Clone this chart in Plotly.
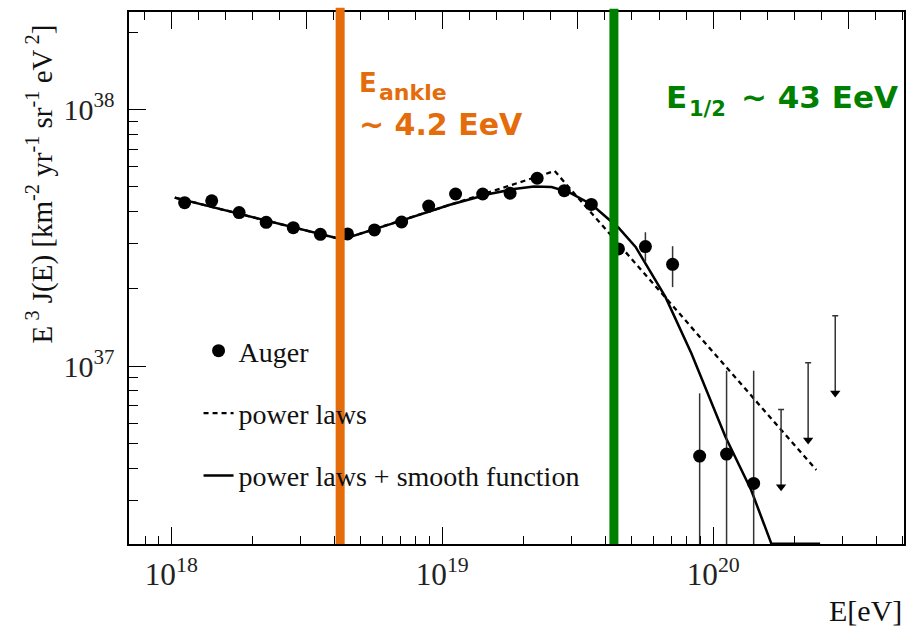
import math
import plotly.graph_objects as go

# Auger spectrum: bin energies [eV] and E^3 J(E) [km^-2 yr^-1 sr^-1 eV^2]
energy = [1.12e18, 1.41e18, 1.78e18, 2.24e18, 2.82e18, 3.55e18, 4.47e18, 5.62e18,
          7.08e18, 8.91e18, 1.12e19, 1.41e19, 1.78e19, 2.24e19, 2.82e19, 3.55e19,
          4.47e19, 5.62e19, 7.08e19, 8.91e19, 1.12e20, 1.41e20]
flux = [4.33e37, 4.40e37, 3.96e37, 3.63e37, 3.46e37, 3.26e37, 3.27e37, 3.39e37,
        3.64e37, 4.20e37, 4.68e37, 4.68e37, 4.71e37, 5.39e37, 4.82e37, 4.26e37,
        2.86e37, 2.92e37, 2.49e37, 4.46e36, 4.54e36, 3.49e36]
flux_hi = [4.33e37, 4.40e37, 3.96e37, 3.63e37, 3.46e37, 3.26e37, 3.27e37, 3.39e37,
           3.64e37, 4.20e37, 4.68e37, 4.68e37, 4.71e37, 5.39e37, 4.82e37, 4.26e37,
           2.86e37, 3.32e37, 2.93e37, 7.83e36, 9.59e36, 9.59e36]
flux_lo = [4.33e37, 4.40e37, 3.96e37, 3.63e37, 3.46e37, 3.26e37, 3.27e37, 3.39e37,
           3.64e37, 4.20e37, 4.68e37, 4.68e37, 4.71e37, 5.39e37, 4.82e37, 4.26e37,
           2.86e37, 2.55e37, 2.03e37, 1.0e36, 1.0e36, 1.0e36]

# 95% upper limits in the last bins
limit_energy = [1.78e20, 2.24e20, 2.82e20]
limit_flux = [6.78e36, 1.03e37, 1.57e37]

# Fitted models
smooth_energy = [1.03e18, 4.27e18, 6.93e18, 1.06e19, 1.49e19, 1.84e19, 2.18e19, 2.53e19,
                 2.93e19, 3.56e19, 4.48e19, 5.17e19, 6.66e19, 8.31e19, 1.11e20, 1.38e20,
                 1.64e20, 2.48e20]
smooth_flux = [4.53e37, 3.11e37, 3.66e37, 4.24e37, 4.68e37, 4.89e37, 5.00e37, 4.98e37,
               4.76e37, 4.26e37, 3.45e37, 2.91e37, 1.86e37, 1.12e37, 5.29e36, 3.29e36,
               2.03e36, 2.03e36]
power_energy = [1.03e18, 4.27e18, 2.60e19, 2.40e20]
power_flux = [4.53e37, 3.11e37, 5.75e37, 3.94e36]

# Characteristic energies [eV]
E_ankle = 4.2e18
E_half = 43e18

ORANGE = "#E46C0A"
GREEN = "#008000"
SERIF = "Liberation Serif"
SANS = "DejaVu Sans"

X_RANGE = [17.844, 20.704]
Y_RANGE = [36.307, 38.379]

fig = go.Figure()

fig.add_trace(go.Scatter(
    x=smooth_energy, y=smooth_flux, mode="lines",
    line=dict(color="black", width=2.5),
    name="power laws + smooth function", legendgroup="c", legendrank=3,
    hoverinfo="skip",
))
fig.add_trace(go.Scatter(
    x=power_energy, y=power_flux, mode="lines",
    line=dict(color="black", width=2.3, dash="5px,4px"),
    name="power laws", legendgroup="b", legendrank=2,
    hoverinfo="skip",
))
fig.add_trace(go.Scatter(
    x=energy, y=flux, mode="markers",
    marker=dict(color="black", size=13),
    error_y=dict(type="data", symmetric=False,
                 array=[h - f for h, f in zip(flux_hi, flux)],
                 arrayminus=[f - l for f, l in zip(flux, flux_lo)],
                 color="#333333", thickness=1.5, width=0),
    name="Auger", legendgroup="a", legendrank=1,
))
# upper limits: arrow from the limit down by a factor of two
fig.add_trace(go.Scatter(
    x=limit_energy, y=[v / 2 for v in limit_flux], mode="markers",
    marker=dict(color="black", size=9, symbol="triangle-down"),
    error_y=dict(type="data", symmetric=False,
                 array=[v / 2 for v in limit_flux],
                 arrayminus=[0] * len(limit_flux),
                 color="#333333", thickness=1.5, width=3),
    showlegend=False, hoverinfo="skip",
))
# carrier for the top axis
fig.add_trace(go.Scatter(x=[18], y=[None], xaxis="x2", showlegend=False,
                         hoverinfo="skip", mode="markers"))

for e_val, col, top in [(E_ankle, ORANGE, 1.008), (E_half, GREEN, 1.006)]:
    fig.add_shape(type="line", xref="x", yref="paper", x0=e_val, x1=e_val,
                  y0=0, y1=top, line=dict(color=col, width=9), layer="above")


def py(px):
    return (544 - px) / 532.0


ann = []
la = math.log10(E_ankle)
lh = math.log10(E_half)
ann += [
    dict(x=la, xref="x", y=py(82.8), yref="paper", xshift=17, text="<b>E</b>",
         font=dict(family=SANS, size=26, color=ORANGE)),
    dict(x=la, xref="x", y=py(92.8), yref="paper", xshift=37, text="<b>ankle</b>",
         font=dict(family=SANS, size=22, color=ORANGE)),
    dict(x=la, xref="x", y=py(124.5), yref="paper", xshift=17, text="<b>~ 4.2 EeV</b>",
         font=dict(family=SANS, size=30, color=ORANGE)),
    dict(x=lh, xref="x", y=py(97.1), yref="paper", xshift=50, text="<b>E</b>",
         font=dict(family=SANS, size=31, color=GREEN)),
    dict(x=lh, xref="x", y=py(109.1), yref="paper", xshift=73, text="<b>1/2</b>",
         font=dict(family=SANS, size=21, color=GREEN)),
    dict(x=lh, xref="x", y=py(97.1), yref="paper", xshift=125, text="<b>~ 43 EeV</b>",
         font=dict(family=SANS, size=31, color=GREEN)),
]
for a in ann:
    a.update(showarrow=False, xanchor="left", yanchor="middle")

# axis titles
ann.append(dict(
    text="E<sup> 3</sup> J(E) [km<sup>-2</sup> yr<sup>-1</sup> sr<sup>-1</sup> eV<sup> 2</sup>]",
    textangle=-90, xref="paper", yref="paper", x=(40 - 129.3) / 776.7, y=py(22),
    xanchor="center", yanchor="top", showarrow=False,
    font=dict(family=SERIF, size=29, color="#111111"),
))
ann.append(dict(
    text="E[eV]", xref="paper", yref="paper", x=1.0, y=py(610),
    xanchor="right", yanchor="middle", showarrow=False,
    font=dict(family=SERIF, size=30, color="#111111"),
))

axis_common = dict(
    showline=True, linecolor="black", linewidth=1.5,
    ticks="inside", tickcolor="black", tickwidth=1.3, ticklen=17,
    showgrid=False, zeroline=False,
)

fig.update_layout(
    width=915, height=627,
    margin=dict(l=129, r=9, t=12, b=83),
    paper_bgcolor="white", plot_bgcolor="white",
    annotations=ann,
    showlegend=True,
    legend=dict(
        x=(199 - 129.3) / 776.7, y=py(326), xanchor="left", yanchor="top",
        bgcolor="rgba(0,0,0,0)", tracegroupgap=23,
        font=dict(family=SERIF, size=28, color="#111111"),
    ),
    xaxis=dict(
        type="log", range=X_RANGE, dtick=1, exponentformat="power",
        minor=dict(ticks="inside", ticklen=8, dtick="D1", tickcolor="black", tickwidth=1.2),
        tickfont=dict(family=SERIF, size=25, color="#222222"),
        ticklabelstandoff=3,
        **axis_common,
    ),
    xaxis2=dict(
        type="linear", range=X_RANGE, overlaying="x", side="top", anchor="y",
        tick0=18, dtick=0.5, showticklabels=False,
        minor=dict(ticks="inside", ticklen=8, dtick=0.1, tickcolor="black", tickwidth=1.2),
        **axis_common,
    ),
    yaxis=dict(
        type="log", range=Y_RANGE, dtick=1, exponentformat="power", mirror=True,
        minor=dict(ticks="inside", ticklen=9, dtick="D1", tickcolor="black", tickwidth=1.2),
        tickfont=dict(family=SERIF, size=24, color="#222222"),
        ticklabelstandoff=8,
        **axis_common,
    ),
)

fig.write_html("out.html")
